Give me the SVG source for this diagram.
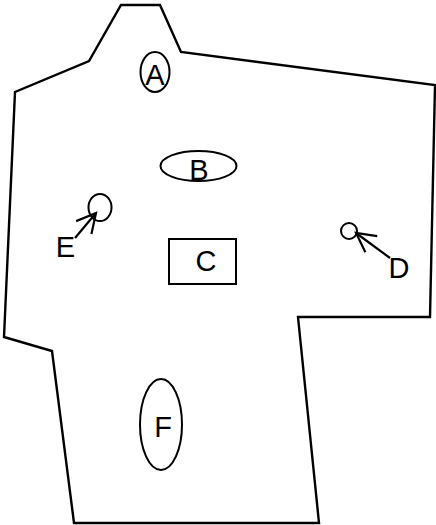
<svg xmlns="http://www.w3.org/2000/svg" width="436" height="525" viewBox="0 0 436 525">
<style>
.sh{fill:none;stroke:#000;stroke-width:2}
.wall{fill:#fff;stroke:#000;stroke-width:2.4;stroke-linejoin:miter}
.lb{font-family:"Liberation Sans",Arial,sans-serif;font-size:29px;fill:#000;text-anchor:middle}
.cn{fill:none;stroke:#000;stroke-width:2.2}
</style>
<defs>
<marker id="ah" markerUnits="userSpaceOnUse" markerWidth="30" markerHeight="30" viewBox="-22 -15 30 30" refX="0" refY="0" orient="auto">
<path d="M-19,-10 L0,0 L-19,10" fill="none" stroke="#000" stroke-width="2.2"/>
</marker>
</defs>
<rect width="436" height="525" fill="#fff"/>
<g id="outline">
<polygon class="wall" points="121,5 160,5 181,52 435,85 430,317 298,317 319,523 74,523 52,351 4,337 15,92 89,61"/>
</g>
<g id="A">
<ellipse class="sh" cx="155" cy="72" rx="14.5" ry="20"/>
<text class="lb" x="155" y="85">A</text>
</g>
<g id="B">
<ellipse class="sh" cx="198.5" cy="166" rx="38" ry="15"/>
<text class="lb" x="199" y="180">B</text>
</g>
<g id="C">
<rect class="sh" x="169" y="239" width="67" height="45"/>
<text class="lb" x="206" y="271">C</text>
</g>
<g id="E">
<ellipse class="sh" cx="100" cy="207.5" rx="11.5" ry="13.5"/>
<text class="lb" x="65.5" y="257">E</text>
</g>
<g id="D">
<circle class="sh" cx="349" cy="231" r="8"/>
<text class="lb" x="399" y="278">D</text>
</g>
<g id="F">
<ellipse class="sh" cx="161" cy="424.5" rx="21" ry="45.5"/>
<text class="lb" x="163" y="437">F</text>
</g>
<g id="connectors">
<line class="cn" x1="75" y1="238" x2="96" y2="213" marker-end="url(#ah)"/>
<line class="cn" x1="390" y1="258" x2="356" y2="233" marker-end="url(#ah)"/>
</g>
</svg>
